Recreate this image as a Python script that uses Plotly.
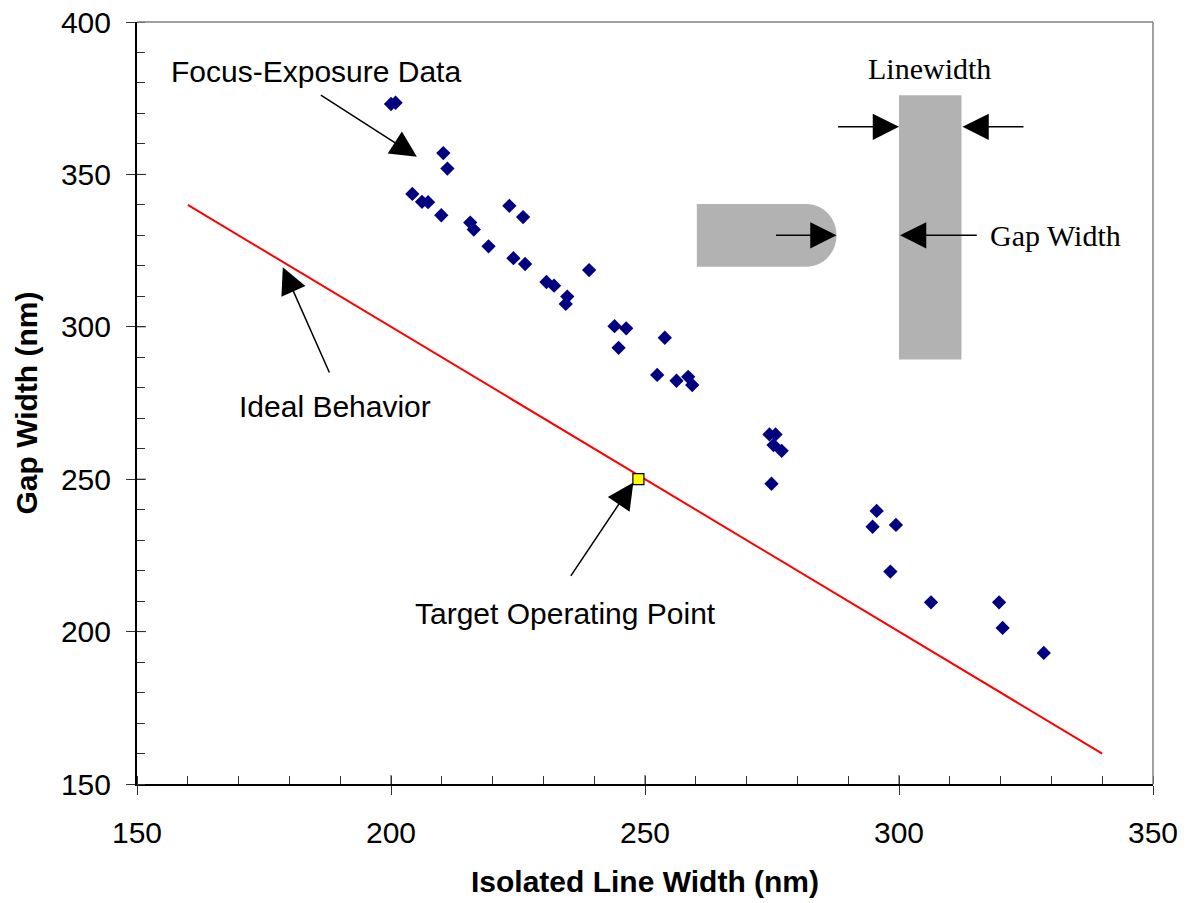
import plotly.graph_objects as go

# ---- data ----
fe_x = [200.0, 200.9, 210.3, 211.1, 204.2, 206.1, 207.3, 209.9, 215.6, 216.3, 219.2,
        223.3, 226.0, 224.1, 226.4, 230.6, 232.1, 234.7, 234.4, 239.0, 244.0, 246.3,
        244.8, 253.9, 252.4, 256.2, 258.5, 259.3, 274.5, 275.7, 275.3, 276.9, 274.9,
        295.6, 294.8, 299.4, 298.3, 306.3, 319.7, 320.4, 328.5]
fe_y = [373.1, 373.5, 357.0, 351.9, 343.6, 341.0, 340.9, 336.6, 334.2, 331.9, 326.4,
        339.7, 336.0, 322.5, 320.6, 314.7, 313.5, 309.9, 307.5, 318.6, 300.2, 299.5,
        293.1, 296.4, 284.2, 282.3, 283.6, 280.9, 264.7, 264.7, 261.2, 259.3, 248.5,
        239.6, 234.4, 235.0, 219.7, 209.6, 209.6, 201.2, 193.0]
ideal_x = [160, 340]
ideal_y = [340, 160]
target_x = [248.7]
target_y = [250.0]
x_ticks = [150, 200, 250, 300, 350]
y_ticks = [150, 200, 250, 300, 350, 400]

fig = go.Figure()
fig.add_trace(go.Scatter(x=ideal_x, y=ideal_y, mode="lines",
                         line=dict(color="#FF0000", width=2), showlegend=False))
fig.add_trace(go.Scatter(x=fe_x, y=fe_y, mode="markers",
                         marker=dict(symbol="diamond", size=11, color="#000080",
                                     line=dict(width=0)), showlegend=False))
fig.add_trace(go.Scatter(x=target_x, y=target_y, mode="markers",
                         marker=dict(symbol="square", size=11, color="#FFFF00",
                                     line=dict(width=1.2, color="#000000")),
                         showlegend=False))

AX_FONT = dict(family="Liberation Sans, Arial", size=30, color="black")
TITLE_FONT = dict(family="Liberation Sans, Arial", size=30, color="black")

fig.update_xaxes(range=[150, 350], tickvals=x_ticks, showgrid=False, zeroline=False,
                 showline=True, linecolor="black", linewidth=2, automargin=False,
                 ticks="outside", ticklen=9, tickwidth=1, tickcolor="#303030",
                 tickfont=AX_FONT, ticklabelstandoff=12, ticklabeloverflow="allow",
                 minor=dict(ticks="inside", ticklen=8, tickwidth=1, tickcolor="#303030",
                            dtick=10, showgrid=False),
                 title=dict(text="<b>Isolated Line Width (nm)</b>", font=TITLE_FONT,
                            standoff=23))
fig.update_yaxes(range=[150, 400], tickvals=y_ticks, showgrid=False, zeroline=False,
                 showline=True, linecolor="black", linewidth=2, automargin=False,
                 ticks="outside", ticklen=9, tickwidth=1, tickcolor="#303030",
                 tickfont=AX_FONT, ticklabelstandoff=9, ticklabeloverflow="allow",
                 minor=dict(ticks="inside", ticklen=8, tickwidth=1, tickcolor="#303030",
                            dtick=10, showgrid=False),
                 title=dict(text="<b>Gap Width (nm)</b>", font=TITLE_FONT, standoff=14))

shapes = []
# inner halves of the major ticks (they cross the axis in the reference)
for v in x_ticks[1:-1]:
    shapes.append(dict(type="line", xref="x", yref="paper", x0=v, x1=v, y0=0, y1=9 / 762,
                       line=dict(color="#303030", width=1)))
for v in y_ticks[1:-1]:
    shapes.append(dict(type="line", xref="paper", yref="y", x0=0, x1=9 / 1016, y0=v, y1=v,
                       line=dict(color="#303030", width=1)))
# gray top / right frame
shapes.append(dict(type="line", xref="paper", yref="paper", x0=0, x1=1, y0=1, y1=1,
                   line=dict(color="#808080", width=1.5)))
shapes.append(dict(type="line", xref="paper", yref="paper", x0=1, x1=1, y0=0, y1=1,
                   line=dict(color="#808080", width=1.5)))

# schematic: vertical line and line end
GRAY = "#B2B2B2"
shapes.append(dict(type="rect", xref="x", yref="y", x0=300.0, x1=312.3, y0=289.3, y1=376.0,
                   fillcolor=GRAY, line=dict(width=0), layer="below"))
x0, xe, yt, yb = 260.2, 287.7, 340.3, 319.7
ym = (yt + yb) / 2
rx, ry = 5.9, (yt - yb) / 2
xs = xe - rx
k = 0.5523
path = (f"M{x0},{yt} L{xs},{yt} "
        f"C{xs + k * rx},{yt} {xe},{ym + k * ry} {xe},{ym} "
        f"C{xe},{ym - k * ry} {xs + k * rx},{yb} {xs},{yb} "
        f"L{x0},{yb} Z")
shapes.append(dict(type="path", xref="x", yref="y", path=path, fillcolor=GRAY,
                   line=dict(width=0), layer="below"))
fig.update_layout(shapes=shapes)

ANN_FONT = dict(family="Liberation Sans, Arial", size=30, color="black")
SERIF = dict(family="Liberation Serif, Times New Roman", size=30, color="black")


def arrow(tip_x, tip_y, tail_x, tail_y):
    fig.add_annotation(x=tip_x, y=tip_y, ax=tail_x, ay=tail_y, axref="x", ayref="y",
                       xref="x", yref="y", text="", showarrow=True, arrowhead=2,
                       arrowsize=3.5, arrowwidth=1.5, arrowcolor="black")


def label(x, y, txt, font):
    fig.add_annotation(x=x, y=y, xref="x", yref="y", text=txt, showarrow=False,
                       font=font, xanchor="center", yanchor="middle")


label(185.2, 383.6, "Focus-Exposure Data", ANN_FONT)
arrow(205.1, 355.8, 185.9, 376.3)
label(189.0, 274.0, "Ideal Behavior", ANN_FONT)
arrow(178.7, 319.5, 188.0, 284.5)
label(234.3, 206.0, "Target Operating Point", ANN_FONT)
arrow(247.7, 248.9, 235.2, 217.8)

label(306.0, 384.8, "Linewidth", SERIF)
label(330.8, 329.8, "Gap Width", SERIF)
arrow(300.0, 365.6, 287.7, 365.6)
arrow(312.5, 365.6, 324.8, 365.6)
arrow(287.7, 330.0, 275.5, 330.0)
arrow(300.2, 330.0, 315.6, 330.0)

fig.update_layout(width=1190, height=903, margin=dict(l=137, r=37, t=22, b=119),
                  paper_bgcolor="white", plot_bgcolor="white", showlegend=False)

# remove the default page margin so the figure starts at the window corner
fig.write_html("out.html", config={"displayModeBar": False},
               post_script="document.body.style.margin='0';document.body.style.overflow='hidden';")
